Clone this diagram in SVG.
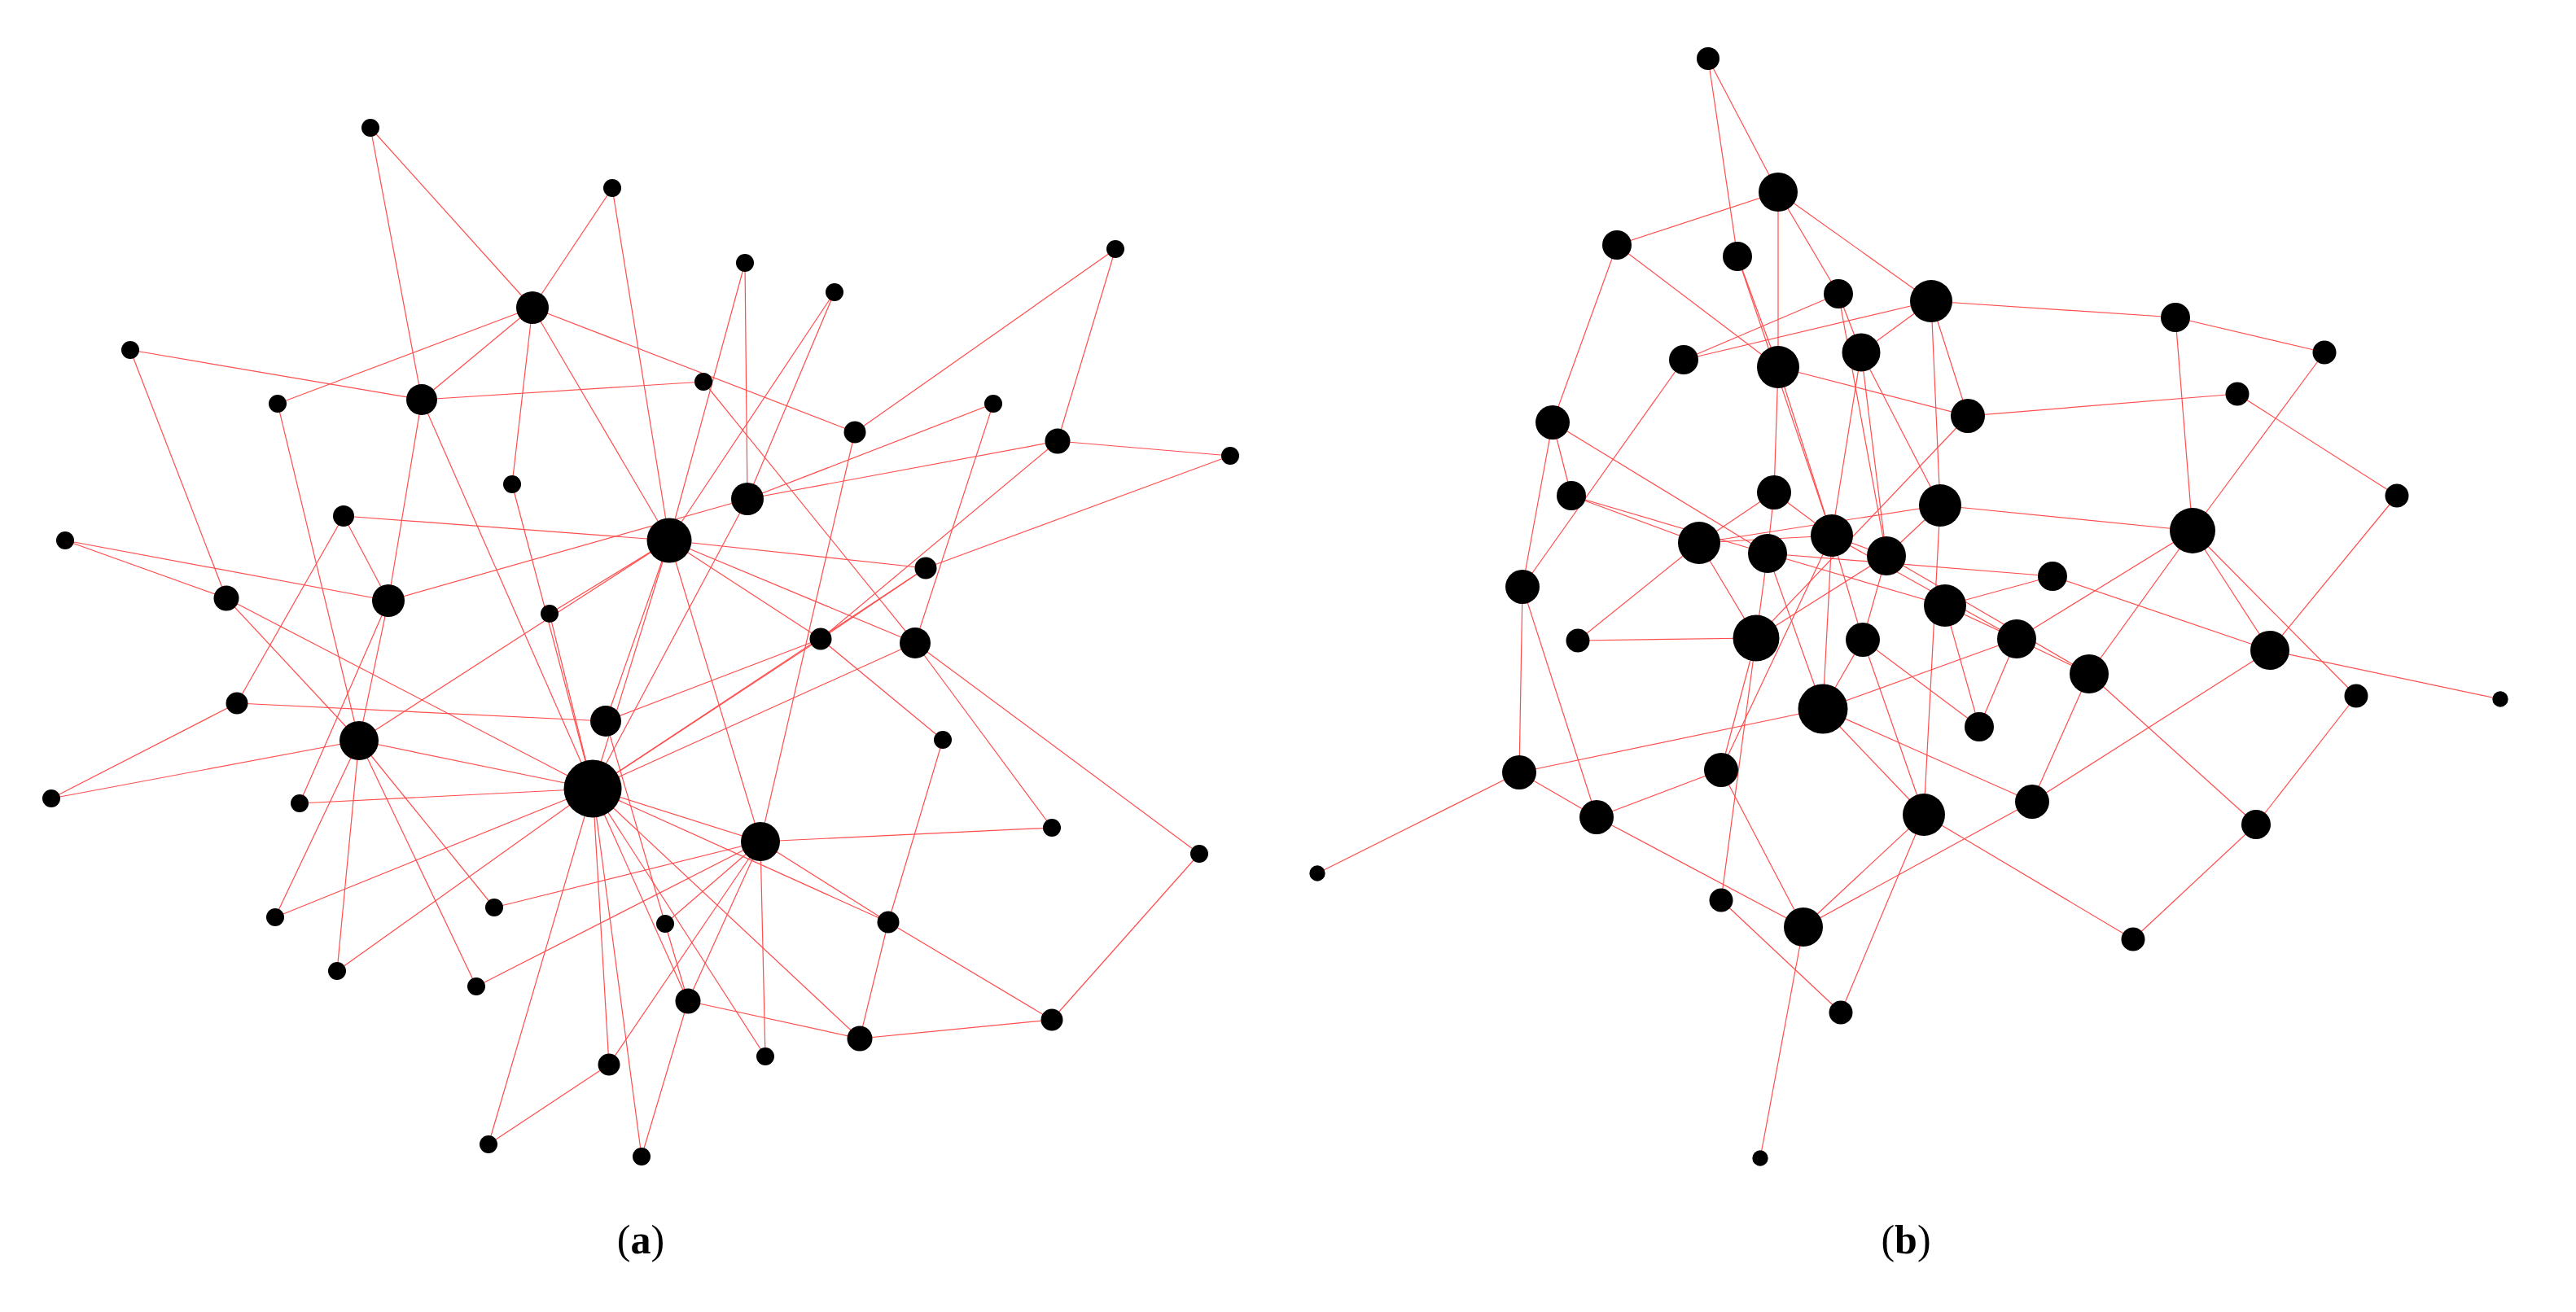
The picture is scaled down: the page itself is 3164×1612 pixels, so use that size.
<svg xmlns="http://www.w3.org/2000/svg" width="3164" height="1612" viewBox="0 0 3164 1612">
<style>
.e line{stroke:#ff4d4d;stroke-width:1.2}
circle{fill:#000}
.lbl{font-family:"Liberation Serif",serif;font-size:50px;fill:#000}
.lbl tspan.b{font-weight:bold}
</style>
<rect width="3164" height="1612" fill="#fff"/>
<g id="edges-a" class="e">
<line x1="455" y1="157" x2="654" y2="378"/>
<line x1="455" y1="157" x2="518" y2="491"/>
<line x1="752" y1="231" x2="654" y2="378"/>
<line x1="752" y1="231" x2="822" y2="664"/>
<line x1="654" y1="378" x2="341" y2="496"/>
<line x1="654" y1="378" x2="518" y2="491"/>
<line x1="654" y1="378" x2="1050" y2="531"/>
<line x1="654" y1="378" x2="629" y2="595"/>
<line x1="654" y1="378" x2="822" y2="664"/>
<line x1="160" y1="430" x2="518" y2="491"/>
<line x1="160" y1="430" x2="278" y2="735"/>
<line x1="341" y1="496" x2="441" y2="910"/>
<line x1="518" y1="491" x2="864" y2="469"/>
<line x1="518" y1="491" x2="477" y2="738"/>
<line x1="518" y1="491" x2="728" y2="969"/>
<line x1="915" y1="323" x2="822" y2="664"/>
<line x1="915" y1="323" x2="918" y2="613"/>
<line x1="1025" y1="359" x2="822" y2="664"/>
<line x1="1025" y1="359" x2="918" y2="613"/>
<line x1="1370" y1="306" x2="1050" y2="531"/>
<line x1="1370" y1="306" x2="1299" y2="542"/>
<line x1="864" y1="469" x2="1124" y2="790"/>
<line x1="1050" y1="531" x2="934" y2="1034"/>
<line x1="1220" y1="496" x2="918" y2="613"/>
<line x1="1220" y1="496" x2="1124" y2="790"/>
<line x1="1299" y1="542" x2="918" y2="613"/>
<line x1="1299" y1="542" x2="1511" y2="560"/>
<line x1="1299" y1="542" x2="1008" y2="785"/>
<line x1="1511" y1="560" x2="1137" y2="698"/>
<line x1="629" y1="595" x2="728" y2="969"/>
<line x1="422" y1="634" x2="822" y2="664"/>
<line x1="422" y1="634" x2="291" y2="864"/>
<line x1="422" y1="634" x2="477" y2="738"/>
<line x1="80" y1="664" x2="477" y2="738"/>
<line x1="80" y1="664" x2="278" y2="735"/>
<line x1="278" y1="735" x2="728" y2="969"/>
<line x1="278" y1="735" x2="441" y2="910"/>
<line x1="477" y1="738" x2="918" y2="613"/>
<line x1="477" y1="738" x2="441" y2="910"/>
<line x1="477" y1="738" x2="368" y2="987"/>
<line x1="441" y1="910" x2="414" y2="1193"/>
<line x1="441" y1="910" x2="338" y2="1127"/>
<line x1="441" y1="910" x2="585" y2="1212"/>
<line x1="441" y1="910" x2="607" y2="1115"/>
<line x1="441" y1="910" x2="63" y2="981"/>
<line x1="441" y1="910" x2="728" y2="969"/>
<line x1="291" y1="864" x2="744" y2="886"/>
<line x1="291" y1="864" x2="63" y2="981"/>
<line x1="368" y1="987" x2="728" y2="969"/>
<line x1="822" y1="664" x2="675" y2="754"/>
<line x1="822" y1="664" x2="441" y2="910"/>
<line x1="675" y1="754" x2="728" y2="969"/>
<line x1="744" y1="886" x2="822" y2="664"/>
<line x1="744" y1="886" x2="1008" y2="785"/>
<line x1="728" y1="969" x2="1008" y2="785"/>
<line x1="728" y1="969" x2="1137" y2="698"/>
<line x1="728" y1="969" x2="1124" y2="790"/>
<line x1="822" y1="664" x2="1137" y2="698"/>
<line x1="822" y1="664" x2="1124" y2="790"/>
<line x1="822" y1="664" x2="1008" y2="785"/>
<line x1="822" y1="664" x2="934" y2="1034"/>
<line x1="822" y1="664" x2="728" y2="969"/>
<line x1="918" y1="613" x2="728" y2="969"/>
<line x1="338" y1="1127" x2="728" y2="969"/>
<line x1="607" y1="1115" x2="934" y2="1034"/>
<line x1="414" y1="1193" x2="728" y2="969"/>
<line x1="585" y1="1212" x2="934" y2="1034"/>
<line x1="748" y1="1308" x2="728" y2="969"/>
<line x1="748" y1="1308" x2="934" y2="1034"/>
<line x1="748" y1="1308" x2="600" y2="1406"/>
<line x1="600" y1="1406" x2="728" y2="969"/>
<line x1="788" y1="1421" x2="728" y2="969"/>
<line x1="788" y1="1421" x2="845" y2="1230"/>
<line x1="934" y1="1034" x2="1292" y2="1017"/>
<line x1="934" y1="1034" x2="1091" y2="1133"/>
<line x1="728" y1="969" x2="1091" y2="1133"/>
<line x1="934" y1="1034" x2="940" y2="1298"/>
<line x1="934" y1="1034" x2="817" y2="1135"/>
<line x1="728" y1="969" x2="934" y2="1034"/>
<line x1="744" y1="886" x2="817" y2="1135"/>
<line x1="817" y1="1135" x2="845" y2="1230"/>
<line x1="728" y1="969" x2="845" y2="1230"/>
<line x1="934" y1="1034" x2="845" y2="1230"/>
<line x1="845" y1="1230" x2="1056" y2="1276"/>
<line x1="1091" y1="1133" x2="1056" y2="1276"/>
<line x1="728" y1="969" x2="1056" y2="1276"/>
<line x1="1056" y1="1276" x2="1292" y2="1253"/>
<line x1="728" y1="969" x2="940" y2="1298"/>
<line x1="1158" y1="909" x2="1091" y2="1133"/>
<line x1="1091" y1="1133" x2="1292" y2="1253"/>
<line x1="1473" y1="1049" x2="1292" y2="1253"/>
<line x1="1124" y1="790" x2="1473" y2="1049"/>
<line x1="1124" y1="790" x2="1292" y2="1017"/>
<line x1="1008" y1="785" x2="1158" y2="909"/>
<line x1="1008" y1="785" x2="1137" y2="698"/>
</g>
<g id="edges-b" class="e">
<line x1="2098" y1="72" x2="2184" y2="236"/>
<line x1="2098" y1="72" x2="2134" y2="315"/>
<line x1="2184" y1="236" x2="1986" y2="301"/>
<line x1="2184" y1="236" x2="2184" y2="451"/>
<line x1="2184" y1="236" x2="2258" y2="361"/>
<line x1="2184" y1="236" x2="2372" y2="370"/>
<line x1="1986" y1="301" x2="1907" y2="519"/>
<line x1="1986" y1="301" x2="2184" y2="451"/>
<line x1="2134" y1="315" x2="2184" y2="451"/>
<line x1="2134" y1="315" x2="2250" y2="658"/>
<line x1="2184" y1="451" x2="2250" y2="658"/>
<line x1="2258" y1="361" x2="2068" y2="442"/>
<line x1="2258" y1="361" x2="2286" y2="433"/>
<line x1="2258" y1="361" x2="2317" y2="683"/>
<line x1="2068" y1="442" x2="2372" y2="370"/>
<line x1="2068" y1="442" x2="1870" y2="721"/>
<line x1="2184" y1="451" x2="2417" y2="511"/>
<line x1="2286" y1="433" x2="2372" y2="370"/>
<line x1="2184" y1="451" x2="2179" y2="605"/>
<line x1="2286" y1="433" x2="2250" y2="658"/>
<line x1="2286" y1="433" x2="2317" y2="683"/>
<line x1="2286" y1="433" x2="2383" y2="621"/>
<line x1="2372" y1="370" x2="2672" y2="390"/>
<line x1="2372" y1="370" x2="2383" y2="621"/>
<line x1="2372" y1="370" x2="2417" y2="511"/>
<line x1="2672" y1="390" x2="2855" y2="433"/>
<line x1="2672" y1="390" x2="2693" y2="652"/>
<line x1="2855" y1="433" x2="2693" y2="652"/>
<line x1="2748" y1="484" x2="2417" y2="511"/>
<line x1="2748" y1="484" x2="2944" y2="609"/>
<line x1="2417" y1="511" x2="2157" y2="784"/>
<line x1="2383" y1="621" x2="2693" y2="652"/>
<line x1="2383" y1="621" x2="2363" y2="1001"/>
<line x1="2693" y1="652" x2="2477" y2="785"/>
<line x1="2693" y1="652" x2="2566" y2="828"/>
<line x1="2693" y1="652" x2="2788" y2="799"/>
<line x1="2693" y1="652" x2="2894" y2="855"/>
<line x1="2944" y1="609" x2="2788" y2="799"/>
<line x1="2171" y1="680" x2="2521" y2="708"/>
<line x1="2521" y1="708" x2="2389" y2="744"/>
<line x1="2521" y1="708" x2="2788" y2="799"/>
<line x1="2477" y1="785" x2="2431" y2="893"/>
<line x1="2477" y1="785" x2="2239" y2="871"/>
<line x1="2389" y1="744" x2="2431" y2="893"/>
<line x1="2566" y1="828" x2="2496" y2="985"/>
<line x1="2566" y1="828" x2="2771" y2="1013"/>
<line x1="2788" y1="799" x2="3071" y2="859"/>
<line x1="2788" y1="799" x2="2496" y2="985"/>
<line x1="2894" y1="855" x2="2771" y2="1013"/>
<line x1="2288" y1="786" x2="2431" y2="893"/>
<line x1="2239" y1="871" x2="2496" y2="985"/>
<line x1="2288" y1="786" x2="2363" y2="1001"/>
<line x1="1907" y1="519" x2="1870" y2="721"/>
<line x1="1907" y1="519" x2="1930" y2="609"/>
<line x1="1907" y1="519" x2="2171" y2="680"/>
<line x1="1930" y1="609" x2="2087" y2="667"/>
<line x1="1930" y1="609" x2="2171" y2="680"/>
<line x1="1870" y1="721" x2="1866" y2="949"/>
<line x1="1870" y1="721" x2="1961" y2="1004"/>
<line x1="1938" y1="787" x2="2157" y2="784"/>
<line x1="1938" y1="787" x2="2087" y2="667"/>
<line x1="2179" y1="605" x2="2087" y2="667"/>
<line x1="2179" y1="605" x2="2171" y2="680"/>
<line x1="2179" y1="605" x2="2250" y2="658"/>
<line x1="2087" y1="667" x2="2157" y2="784"/>
<line x1="2171" y1="680" x2="2157" y2="784"/>
<line x1="2171" y1="680" x2="2239" y2="871"/>
<line x1="2171" y1="680" x2="2389" y2="744"/>
<line x1="2250" y1="658" x2="2239" y2="871"/>
<line x1="2250" y1="658" x2="2114" y2="946"/>
<line x1="2087" y1="667" x2="2383" y2="621"/>
<line x1="2087" y1="667" x2="2250" y2="658"/>
<line x1="2239" y1="871" x2="1866" y2="949"/>
<line x1="1866" y1="949" x2="1618" y2="1073"/>
<line x1="1866" y1="949" x2="1961" y2="1004"/>
<line x1="2114" y1="946" x2="1961" y2="1004"/>
<line x1="1961" y1="1004" x2="2215" y2="1139"/>
<line x1="2114" y1="946" x2="2215" y2="1139"/>
<line x1="2157" y1="784" x2="2114" y2="1106"/>
<line x1="2157" y1="784" x2="2114" y2="946"/>
<line x1="2114" y1="1106" x2="2261" y2="1244"/>
<line x1="2215" y1="1139" x2="2363" y2="1001"/>
<line x1="2215" y1="1139" x2="2496" y2="985"/>
<line x1="2215" y1="1139" x2="2162" y2="1423"/>
<line x1="2261" y1="1244" x2="2363" y2="1001"/>
<line x1="2239" y1="871" x2="2363" y2="1001"/>
<line x1="2363" y1="1001" x2="2620" y2="1154"/>
<line x1="2771" y1="1013" x2="2620" y2="1154"/>
<line x1="2288" y1="786" x2="2239" y2="871"/>
<line x1="2288" y1="786" x2="2250" y2="658"/>
<line x1="2288" y1="786" x2="2317" y2="683"/>
<line x1="2157" y1="784" x2="2317" y2="683"/>
<line x1="2317" y1="683" x2="2383" y2="621"/>
<line x1="2250" y1="658" x2="2317" y2="683"/>
<line x1="2250" y1="658" x2="2477" y2="785"/>
<line x1="2317" y1="683" x2="2566" y2="828"/>
<line x1="2477" y1="785" x2="2566" y2="828"/>
<line x1="2389" y1="744" x2="2477" y2="785"/>
</g>
<g id="nodes-a">
<g id="a1"><circle cx="455" cy="157" r="11"/></g>
<g id="a2"><circle cx="752" cy="231" r="11"/></g>
<g id="a3"><circle cx="654" cy="378" r="20"/></g>
<g id="a4"><circle cx="915" cy="323" r="11"/></g>
<g id="a5"><circle cx="1025" cy="359" r="11"/></g>
<g id="a6"><circle cx="1370" cy="306" r="11"/></g>
<g id="a7"><circle cx="160" cy="430" r="11"/></g>
<g id="a8"><circle cx="341" cy="496" r="11"/></g>
<g id="a9"><circle cx="518" cy="491" r="19"/></g>
<g id="a10"><circle cx="864" cy="469" r="11"/></g>
<g id="a11"><circle cx="1050" cy="531" r="13.5"/></g>
<g id="a12"><circle cx="1220" cy="496" r="11"/></g>
<g id="a13"><circle cx="1299" cy="542" r="15.5"/></g>
<g id="a14"><circle cx="1511" cy="560" r="11"/></g>
<g id="a15"><circle cx="629" cy="595" r="11"/></g>
<g id="a16"><circle cx="918" cy="613" r="20"/></g>
<g id="a17"><circle cx="80" cy="664" r="11"/></g>
<g id="a18"><circle cx="422" cy="634" r="13"/></g>
<g id="a19"><circle cx="822" cy="664" r="27.5"/></g>
<g id="a20"><circle cx="278" cy="735" r="15.5"/></g>
<g id="a21"><circle cx="477" cy="738" r="20"/></g>
<g id="a22"><circle cx="1137" cy="698" r="13.5"/></g>
<g id="a23"><circle cx="675" cy="754" r="11"/></g>
<g id="a24"><circle cx="1008" cy="785" r="13.5"/></g>
<g id="a25"><circle cx="1124" cy="790" r="19"/></g>
<g id="a26"><circle cx="291" cy="864" r="13.5"/></g>
<g id="a27"><circle cx="744" cy="886" r="19"/></g>
<g id="a28"><circle cx="441" cy="910" r="24"/></g>
<g id="a29"><circle cx="1158" cy="909" r="11"/></g>
<g id="a30"><circle cx="63" cy="981" r="11"/></g>
<g id="a31"><circle cx="368" cy="987" r="11"/></g>
<g id="a32"><circle cx="728" cy="969" r="35.5"/></g>
<g id="a33"><circle cx="934" cy="1034" r="24"/></g>
<g id="a34"><circle cx="1292" cy="1017" r="11"/></g>
<g id="a35"><circle cx="1473" cy="1049" r="11"/></g>
<g id="a36"><circle cx="338" cy="1127" r="11"/></g>
<g id="a37"><circle cx="607" cy="1115" r="11"/></g>
<g id="a38"><circle cx="817" cy="1135" r="11"/></g>
<g id="a39"><circle cx="1091" cy="1133" r="13.5"/></g>
<g id="a40"><circle cx="414" cy="1193" r="11"/></g>
<g id="a41"><circle cx="585" cy="1212" r="11"/></g>
<g id="a42"><circle cx="845" cy="1230" r="15.5"/></g>
<g id="a43"><circle cx="1056" cy="1276" r="15.5"/></g>
<g id="a44"><circle cx="940" cy="1298" r="11"/></g>
<g id="a45"><circle cx="1292" cy="1253" r="13.5"/></g>
<g id="a46"><circle cx="748" cy="1308" r="13.5"/></g>
<g id="a47"><circle cx="600" cy="1406" r="11"/></g>
<g id="a48"><circle cx="788" cy="1421" r="11"/></g>
</g>
<g id="nodes-b">
<g id="b1"><circle cx="2098" cy="72" r="14"/></g>
<g id="b2"><circle cx="2184" cy="236" r="24"/></g>
<g id="b3"><circle cx="1986" cy="301" r="18"/></g>
<g id="b4"><circle cx="2134" cy="315" r="18"/></g>
<g id="b5"><circle cx="2258" cy="361" r="18"/></g>
<g id="b6"><circle cx="2372" cy="370" r="26"/></g>
<g id="b7"><circle cx="2672" cy="390" r="18"/></g>
<g id="b8"><circle cx="2855" cy="433" r="14.5"/></g>
<g id="b9"><circle cx="2068" cy="442" r="18"/></g>
<g id="b10"><circle cx="2184" cy="451" r="26"/></g>
<g id="b11"><circle cx="2286" cy="433" r="23.5"/></g>
<g id="b12"><circle cx="2417" cy="511" r="21"/></g>
<g id="b13"><circle cx="2748" cy="484" r="14.5"/></g>
<g id="b14"><circle cx="1907" cy="519" r="21"/></g>
<g id="b15"><circle cx="2944" cy="609" r="14.5"/></g>
<g id="b16"><circle cx="2179" cy="605" r="21"/></g>
<g id="b17"><circle cx="1930" cy="609" r="18"/></g>
<g id="b18"><circle cx="2383" cy="621" r="26"/></g>
<g id="b19"><circle cx="2693" cy="652" r="28"/></g>
<g id="b20"><circle cx="2087" cy="667" r="26"/></g>
<g id="b21"><circle cx="2171" cy="680" r="24"/></g>
<g id="b22"><circle cx="2250" cy="658" r="26"/></g>
<g id="b23"><circle cx="2317" cy="683" r="24"/></g>
<g id="b24"><circle cx="2521" cy="708" r="18"/></g>
<g id="b25"><circle cx="1870" cy="721" r="21"/></g>
<g id="b26"><circle cx="2389" cy="744" r="26"/></g>
<g id="b27"><circle cx="2157" cy="784" r="28.5"/></g>
<g id="b28"><circle cx="2288" cy="786" r="21"/></g>
<g id="b29"><circle cx="1938" cy="787" r="14.5"/></g>
<g id="b30"><circle cx="2477" cy="785" r="24"/></g>
<g id="b31"><circle cx="2566" cy="828" r="24"/></g>
<g id="b32"><circle cx="2788" cy="799" r="24"/></g>
<g id="b33"><circle cx="2894" cy="855" r="14.5"/></g>
<g id="b34"><circle cx="3071" cy="859" r="9.7"/></g>
<g id="b35"><circle cx="2239" cy="871" r="30.5"/></g>
<g id="b36"><circle cx="2431" cy="893" r="18"/></g>
<g id="b37"><circle cx="1866" cy="949" r="21"/></g>
<g id="b38"><circle cx="2114" cy="946" r="21"/></g>
<g id="b39"><circle cx="1961" cy="1004" r="21"/></g>
<g id="b40"><circle cx="2363" cy="1001" r="26"/></g>
<g id="b41"><circle cx="2496" cy="985" r="21"/></g>
<g id="b42"><circle cx="2771" cy="1013" r="18"/></g>
<g id="b43"><circle cx="1618" cy="1073" r="9.7"/></g>
<g id="b44"><circle cx="2114" cy="1106" r="14.5"/></g>
<g id="b45"><circle cx="2215" cy="1139" r="24"/></g>
<g id="b46"><circle cx="2620" cy="1154" r="14.5"/></g>
<g id="b47"><circle cx="2261" cy="1244" r="14.5"/></g>
<g id="b48"><circle cx="2162" cy="1423" r="9.7"/></g>
</g>
<g id="labels">
<text class="lbl" x="787" y="1540" text-anchor="middle">(<tspan class="b">a</tspan>)</text>
<text class="lbl" x="2341" y="1540" text-anchor="middle">(<tspan class="b">b</tspan>)</text>
</g>
</svg>
